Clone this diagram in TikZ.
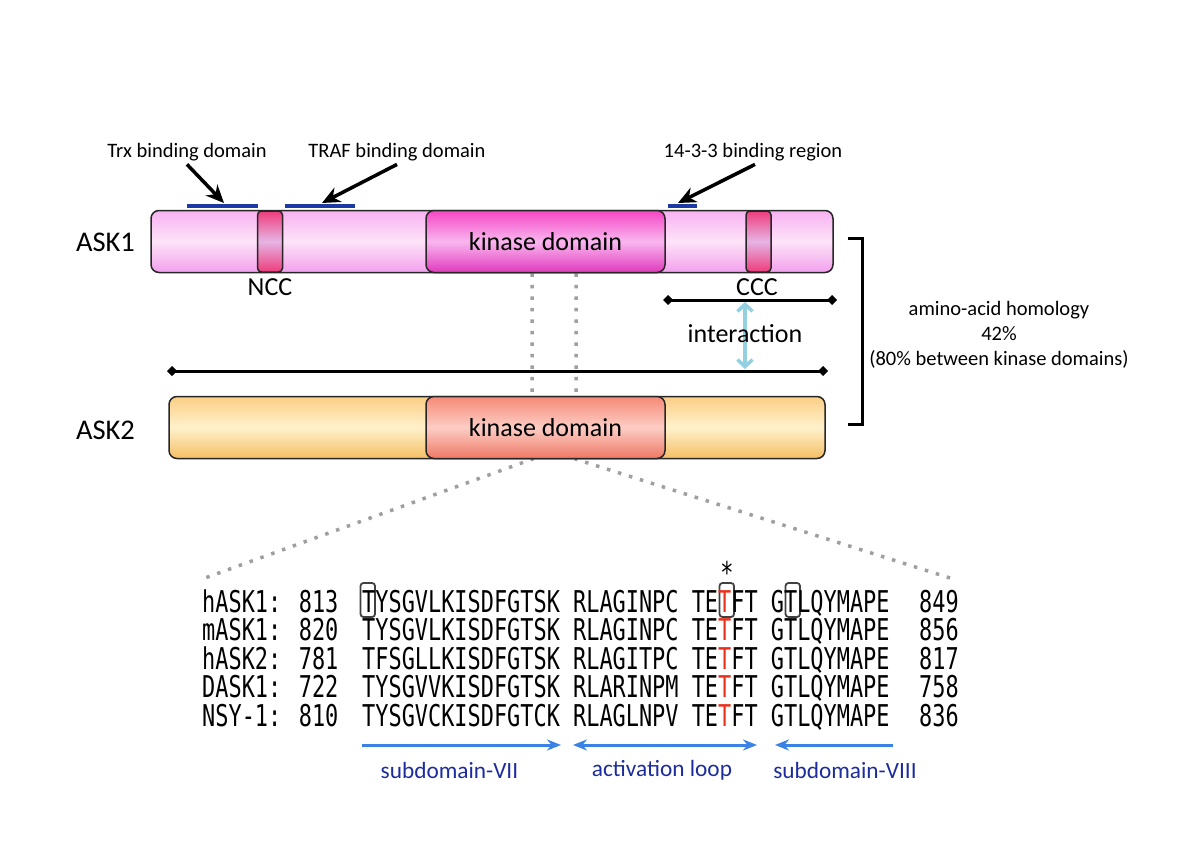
\documentclass[tikz,border=0pt]{standalone}
\usepackage{fontspec}
\setmainfont{Carlito}
\newfontfamily\seqfont[FakeStretch=0.73]{DejaVu Sans Mono}
\usetikzlibrary{arrows.meta,backgrounds}

\definecolor{askatop}{HTML}{F7B2F1}
\definecolor{askamid}{HTML}{FDE3F8}
\definecolor{askabot}{HTML}{F2A0EC}
\definecolor{kinatop}{HTML}{F446C5}
\definecolor{kinamid}{HTML}{F9B6EF}
\definecolor{kinabot}{HTML}{E03ABC}
\definecolor{cctop}{HTML}{EE3C7C}
\definecolor{ccmid}{HTML}{E6B4E4}
\definecolor{askbtop}{HTML}{FBCE84}
\definecolor{askbmid}{HTML}{FFF1CC}
\definecolor{askbbot}{HTML}{F4BF64}
\definecolor{kinbtop}{HTML}{F68A76}
\definecolor{kinbmid}{HTML}{FCCDC5}
\definecolor{kinbbot}{HTML}{EE7864}
\definecolor{bindblue}{HTML}{1C3AA4}
\definecolor{seqblue}{HTML}{3A82E6}
\definecolor{lblblue}{HTML}{1C2C9C}
\definecolor{intblue}{HTML}{92D0E2}
\definecolor{seqred}{HTML}{E8301C}

\begin{document}
\begin{tikzpicture}[x=1pt, y=-1pt,
    bar/.style = {draw=black!85, line width=1.5, rounded corners=8, inner sep=0, minimum height=62},
    cc/.style = {draw=black!85, line width=1.5, rounded corners=4, inner sep=0, minimum width=25, minimum height=61,
                 top color=cctop, bottom color=cctop, middle color=ccmid},
    lblbig/.style = {font=\fontsize{26}{30}\selectfont},
    lblsmall/.style = {font=\fontsize{20.5}{25}\selectfont},
    seq/.style = {font=\seqfont\fontsize{30}{32}\selectfont, anchor=base west, inner sep=0},
    sublbl/.style = {font=\fontsize{23.3}{28}\selectfont, text=lblblue},
    bind/.style = {line width=4.5, draw=bindblue},
    arr/.style = {line width=3.5, -{Stealth[length=18pt,width=16pt]}},
    spanline/.style = {line width=3, {Diamond[length=10pt,width=10pt]}-{Diamond[length=10pt,width=10pt]}},
    dotline/.style = {line width=3.5, gray!75, dash pattern=on 3.5pt off 8pt},
    tbox/.style = {draw=black!75, line width=1.8, rounded corners=3},
    sarr/.style = {line width=3, seqblue, -{Stealth[length=14pt,width=11pt]}}]
    \useasboundingbox (0,0) rectangle (1200,848);

    % ASK1
    \node[bar, minimum width=682, top color=askatop, bottom color=askabot, middle color=askamid] (ask1) at (492,241.5) {};
    \node[cc] (ncc) at (270,241.5) {};
    \node[cc] (ccc) at (758.5,241.5) {};
    \node[bar, minimum width=239, top color=kinatop, bottom color=kinabot, middle color=kinamid, lblbig] (k1) at (545.5,241.5) {kinase domain};
    \node[font=\fontsize{28.5}{32}\selectfont] (ask1lab) at (105.5,242) {ASK1};
    \node[lblbig] (ncclab) at (270,287) {NCC};
    \node[lblbig] (ccclab) at (757,287) {CCC};

    % binding regions
    \draw[bind] (187,206) -- (258,206);
    \draw[bind] (285,206) -- (355,206);
    \draw[bind] (668,206) -- (697,206);
    \coordinate (trxtip) at (224,203);
    \coordinate (traftip) at (322,203);
    \coordinate (bindtip) at (678,203);
    \node[lblsmall] (trx) at (187,152) {Trx binding domain};
    \node[lblsmall] (traf) at (397,152) {TRAF binding domain};
    \node[lblsmall] (bind) at (753,152) {14-3-3 binding region};
    \draw[arr] (trx.south) -- (trxtip);
    \draw[arr] (traf.south) -- (traftip);
    \draw[arr] ([xshift=2]bind.south) -- (bindtip);

    % ASK2
    \node[bar, minimum width=656, top color=askbtop, bottom color=askbbot, middle color=askbmid] (ask2) at (497,427.5) {};
    \node[bar, minimum width=239, top color=kinbtop, bottom color=kinbbot, middle color=kinbmid, lblbig] (k2) at (545.5,427.5) {kinase domain};
    \node[font=\fontsize{28.5}{32}\selectfont] (ask2lab) at (105.5,430) {ASK2};

    % zoom lines
    \coordinate (zl) at (205,578);
    \coordinate (zr) at (950,578);
    \begin{scope}[on background layer]
        \draw[dotline] ([xshift=-13.5]k1.south) -- ([xshift=-13.5]k2.south) -- (zl);
        \draw[dotline] ([xshift=30.5]k1.south) -- ([xshift=30.5]k2.south) -- (zr);
    \end{scope}

    % interaction
    \draw[spanline] (663,300) -- (837,300);
    \draw[spanline] (167,371) -- (828,371);
    \draw[line width=3.5, intblue, {Straight Barb[length=7pt,width=15pt]}-{Straight Barb[length=7pt,width=15pt]}] (745,302) -- (745,369);
    \node[lblbig] (inter) at (745,334) {interaction};

    % homology
    \draw[line width=3] (848,238) -- (862,238) -- (862,424) -- (848,424);
    \node[lblsmall, align=center] (homol) at (999,335) {amino-acid homology\\42\%\\(80\% between kinase domains)};

    % alignment
    \node[seq, anchor=center] (star) at (727,572) {*};
    \draw[tbox] (360.5,583) rectangle (375,617);
    \draw[tbox] (719.5,583) rectangle (734,617);
    \draw[tbox] (785.5,583) rectangle (800,617);

    \node[seq] (n1) at (202,612) {hASK1: 813};
    \node[seq] (s1) at (362,612) {TYSGVLKISDFGTSK RLAGINPC TE\textcolor{seqred}{T}FT GTLQYMAPE};
    \node[seq] (e1) at (919,612) {849};
    \node[seq] (n2) at (202,640.5) {mASK1: 820};
    \node[seq] (s2) at (362,640.5) {TYSGVLKISDFGTSK RLAGINPC TE\textcolor{seqred}{T}FT GTLQYMAPE};
    \node[seq] (e2) at (919,640.5) {856};
    \node[seq] (n3) at (202,669) {hASK2: 781};
    \node[seq] (s3) at (362,669) {TFSGLLKISDFGTSK RLAGITPC TE\textcolor{seqred}{T}FT GTLQYMAPE};
    \node[seq] (e3) at (919,669) {817};
    \node[seq] (n4) at (202,697.5) {DASK1: 722};
    \node[seq] (s4) at (362,697.5) {TYSGVVKISDFGTSK RLARINPM TE\textcolor{seqred}{T}FT GTLQYMAPE};
    \node[seq] (e4) at (919,697.5) {758};
    \node[seq] (n5) at (202,726) {NSY-1: 810};
    \node[seq] (s5) at (362,726) {TYSGVCKISDFGTCK RLAGLNPV TE\textcolor{seqred}{T}FT GTLQYMAPE};
    \node[seq] (e5) at (919,726) {836};

    % subdomains
    \draw[sarr] (362,745) -- (561,745);
    \draw[sarr, {Stealth[length=14pt,width=11pt]}-{Stealth[length=14pt,width=11pt]}] (573,745) -- (757,745);
    \draw[sarr] (893,745) -- (775,745);
    \node[sublbl] (sub7) at (449.5,770) {subdomain-VII};
    \node[sublbl] (loop) at (662,770) {activation loop};
    \node[sublbl] (sub8) at (845,770) {subdomain-VIII};

\end{tikzpicture}
\end{document}
